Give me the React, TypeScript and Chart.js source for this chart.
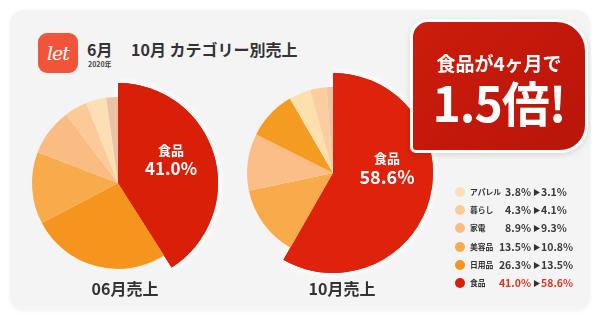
import React, { useEffect, useRef } from "react";
import { Chart, registerables } from "chart.js";

Chart.register(...registerables);

const categories = ["食品", "日用品", "美容品", "家電", "暮らし", "アパレル", "その他"];
const juneValues = [41.0, 26.3, 13.5, 8.9, 4.3, 3.8, 2.2];
const octValues = [58.6, 13.5, 10.8, 9.3, 4.1, 3.1, 1.2];
const juneColors = ["#da1f08", "#f5951d", "#f9ab4c", "#fbbc84", "#fcca99", "#fddfb4", "#edc1a3"];
const octColors = ["#de220b", "#f9ab4c", "#fbbe89", "#f49b21", "#fde0ae", "#fccd9e", "#eec3a6"];
const legendOrder = [5, 4, 3, 2, 1, 0];
const legendColors = ["#da1f08", "#f5951d", "#f9ab4c", "#fbbc84", "#fcca99", "#fddfb4"];

const FONT = '"Noto Sans CJK JP", "Noto Sans", sans-serif';

const bigSlice = {
  id: "bigSlice",
  afterDatasetsUpdate(chart: any, _args: any, opts: any) {
    const meta = chart.getDatasetMeta(0);
    meta.data.forEach((el: any, i: number) => {
      if (i !== 0) el.outerRadius = opts.small;
    });
  },
  beforeDatasetsDraw(chart: any) {
    const el = chart.getDatasetMeta(0).data[0];
    if (!el) return;
    const ctx = chart.ctx;
    ctx.save();
    ctx.shadowColor = "rgba(255,255,255,1)";
    ctx.shadowBlur = 9;
    el.draw(ctx, chart.chartArea);
    el.draw(ctx, chart.chartArea);
    ctx.restore();
  },
};

function Pie({ values, colors, left, top }: { values: number[]; colors: string[]; left: number; top: number }) {
  const ref = useRef<HTMLCanvasElement>(null);
  useEffect(() => {
    const chart = new Chart(ref.current as HTMLCanvasElement, {
      type: "pie",
      data: {
        labels: categories,
        datasets: [
          {
            data: values,
            backgroundColor: colors,
            borderWidth: 0,
            radius: 100,
          } as any,
        ],
      },
      options: {
        responsive: false,
        animation: false,
        events: [],
        radius: 100,
        layout: { padding: 0 },
        plugins: {
          legend: { display: false },
          tooltip: { enabled: false },
          bigSlice: { small: 86 },
        } as any,
      } as any,
      plugins: [bigSlice as any],
    });
    return () => chart.destroy();
  }, []);
  return (
    <canvas
      ref={ref}
      width={220}
      height={220}
      style={{ position: "absolute", left, top, width: 220, height: 220 }}
    />
  );
}

const abs = (o: React.CSSProperties): React.CSSProperties => ({ position: "absolute", ...o });

export default function App() {
  return (
    <div style={{ position: "fixed", left: 0, top: 0, width: 600, height: 322, background: "#ffffff", overflow: "hidden", fontFamily: FONT }}>
      <div
        style={abs({
          left: 10,
          top: 10,
          width: 580,
          height: 300,
          background: "#f4f4f5",
          borderRadius: 14,
          boxShadow: "0 1px 4px rgba(0,0,0,0.06)",
        })}
      />
      {/* logo */}
      <div
        style={abs({
          left: 38,
          top: 33,
          width: 40,
          height: 40,
          background: "#f0553b",
          borderRadius: 9,
          color: "#fff",
          fontFamily: '"DejaVu Serif", serif',
          fontStyle: "italic",
          fontSize: 19,
          lineHeight: "40px",
          textAlign: "center",
          letterSpacing: -1,
        })}
      >
        let
      </div>
      <div style={abs({ left: 87, top: 38, fontSize: 16, fontWeight: 700, color: "#333", lineHeight: "22px", whiteSpace: "nowrap" })}>6月</div>
      <div style={abs({ left: 131, top: 38, fontSize: 16, fontWeight: 700, color: "#333", lineHeight: "22px", whiteSpace: "nowrap" })}>
        10月 カテゴリー別売上
      </div>
      <div style={abs({ left: 88, top: 60, fontSize: 7, fontWeight: 700, color: "#444", lineHeight: "9px" })}>2020年</div>

      <Pie values={juneValues} colors={juneColors} left={8} top={73} />
      <Pie values={octValues} colors={octColors} left={223} top={63} />

      {/* pie labels */}
      <div style={abs({ left: 140, top: 142, width: 62, textAlign: "center", color: "#fff", fontWeight: 700, lineHeight: 1.2 })}>
        <div style={{ fontSize: 13 }}>{categories[0]}</div>
        <div style={{ fontSize: 17 }}>{juneValues[0].toFixed(1)}%</div>
      </div>
      <div style={abs({ left: 355, top: 150, width: 64, textAlign: "center", color: "#fff", fontWeight: 700, lineHeight: 1.2 })}>
        <div style={{ fontSize: 13 }}>{categories[0]}</div>
        <div style={{ fontSize: 18 }}>{octValues[0].toFixed(1)}%</div>
      </div>

      <div style={abs({ left: 75, top: 277, width: 100, textAlign: "center", fontSize: 16, fontWeight: 700, color: "#333", lineHeight: "22px" })}>06月売上</div>
      <div style={abs({ left: 292, top: 277, width: 100, textAlign: "center", fontSize: 16, fontWeight: 700, color: "#333", lineHeight: "22px" })}>10月売上</div>

      {/* callout */}
      <div
        style={abs({
          left: 410,
          top: 19,
          width: 178,
          height: 134,
          boxSizing: "border-box",
          border: "3px solid #ffffff",
          borderRadius: "18px 32px 28px 6px",
          background: "linear-gradient(135deg, #cc1c0c 0%, #b9150a 100%)",
          boxShadow: "0 2px 6px rgba(0,0,0,0.12)",
          color: "#fff",
          textAlign: "center",
          fontWeight: 700,
        })}
      >
        <div style={abs({ left: 0, right: 0, top: 29, fontSize: 19, lineHeight: "24px", whiteSpace: "nowrap" })}>食品が4ヶ月で</div>
        <div style={abs({ left: 0, right: 0, top: 50, fontSize: 48, lineHeight: "58px", whiteSpace: "nowrap", letterSpacing: -1 })}>1.5倍!</div>
      </div>

      {/* legend */}
      {legendOrder.map((ci, r) => {
        const y = 192 + r * 18.2;
        const isFood = ci === 0;
        const numColor = isFood ? "#e2301c" : "#3a3a3a";
        return (
          <React.Fragment key={ci}>
            <div style={abs({ left: 455, top: y - 5, width: 10, height: 10, borderRadius: 5, background: legendColors[ci] })} />
            <div style={abs({ left: 470, top: y - 6, fontSize: 7.8, fontWeight: 700, color: "#333", lineHeight: "12px", whiteSpace: "nowrap" })}>{categories[ci]}</div>
            <div style={abs({ left: 490, width: 41, textAlign: "right", top: y - 8, fontSize: 10.5, fontWeight: 700, color: numColor, lineHeight: "16px", whiteSpace: "nowrap" })}>
              {juneValues[ci].toFixed(1)}%
            </div>
            <div style={abs({ left: 533, top: y - 6, fontSize: 7.5, color: "#333", lineHeight: "12px" })}>▶</div>
            <div style={abs({ left: 541, top: y - 8, fontSize: 10.5, fontWeight: 700, color: numColor, lineHeight: "16px", whiteSpace: "nowrap" })}>
              {octValues[ci].toFixed(1)}%
            </div>
          </React.Fragment>
        );
      })}
    </div>
  );
}
